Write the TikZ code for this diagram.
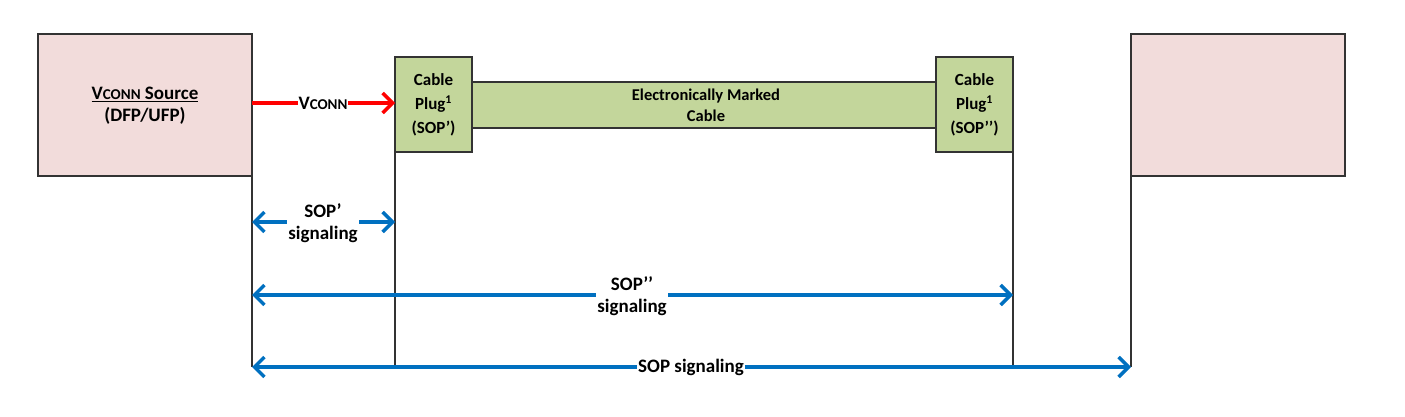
\documentclass[tikz,border=0pt]{standalone}
\usepackage{fontspec}
\setmainfont{Carlito}
\usetikzlibrary{arrows.meta}
\definecolor{pinkf}{HTML}{F2DCDB}
\definecolor{greenf}{HTML}{C3D69B}
\definecolor{blu}{HTML}{0070C0}
\newcommand{\bigf}{\fontsize{19}{22}\selectfont}
\newcommand{\smf}{\fontsize{15}{22}\selectfont}
\begin{document}
\begin{tikzpicture}[x=1pt,y=-1pt,font=\bfseries\bigf,
 box/.style={draw=black!80,line width=1.5pt,inner sep=0},
 vl/.style={draw=black!80,line width=1.2pt},
 bl/.style={blu,line width=3.5pt,{Straight Barb[length=10pt,width=20pt]}-{Straight Barb[length=10pt,width=20pt]}},
 lbl/.style={fill=white,align=center,inner sep=2pt}]
\useasboundingbox (0,0) rectangle (1405,417);
\path[box,fill=pinkf] (38,34) rectangle (252,176);
\node (src) at (145,106) [align=center] {\underline{V\smf CONN\bigf{} Source}\\(DFP/UFP)};
\path[box,fill=pinkf] (1131,34) rectangle (1345,176);
\path[box,fill=greenf] (472,82) rectangle (936,128);
\node (cab) at (706,105) [align=center,font=\bfseries\fontsize{16.5}{21}\selectfont] {Electronically Marked\\Cable};
\path[box,fill=greenf] (395,57) rectangle (472,152);
\node (p1) at (433.5,105) [align=center,font=\bfseries\fontsize{17}{24}\selectfont] {Cable\\Plug\textsuperscript{1}\\(SOP’)};
\path[box,fill=greenf] (936,57) rectangle (1013,152);
\node (p2) at (974.5,105) [align=center,font=\bfseries\fontsize{17}{24}\selectfont] {Cable\\Plug\textsuperscript{1}\\(SOP’’)};
\coordinate (a1) at (252,176); \coordinate (a2) at (252,367);
\coordinate (b1) at (395,152); \coordinate (b2) at (395,367);
\coordinate (c1) at (1013,152); \coordinate (c2) at (1013,367);
\coordinate (d1) at (1131,176); \coordinate (d2) at (1131,367);
\draw[vl] (a1)--(a2); \draw[vl] (b1)--(b2); \draw[vl] (c1)--(c2); \draw[vl] (d1)--(d2);
\coordinate (r1) at (252,103); \coordinate (r2) at (395,103);
\draw[red,line width=3.5pt,-{Straight Barb[length=10pt,width=20pt]}] (r1)--(r2);
\node[lbl,inner sep=1pt] (vc) at (323,103) {V\smf CONN};
\coordinate (s1) at (252,222); \coordinate (s2) at (395,222);
\draw[bl] (s1)--(s2);
\node[lbl,inner sep=1pt] (t1) at (323,223) {SOP’\\signaling};
\coordinate (u1) at (252,295); \coordinate (u2) at (1013,295);
\draw[bl] (u1)--(u2);
\node[lbl,inner sep=1pt] (t2) at (632,296) {SOP’’\\signaling};
\coordinate (w1) at (252,367); \coordinate (w2) at (1131,367);
\draw[bl] (w1)--(w2);
\node[lbl,inner sep=1pt] (t3) at (691,367) {SOP signaling};
\end{tikzpicture}
\end{document}
